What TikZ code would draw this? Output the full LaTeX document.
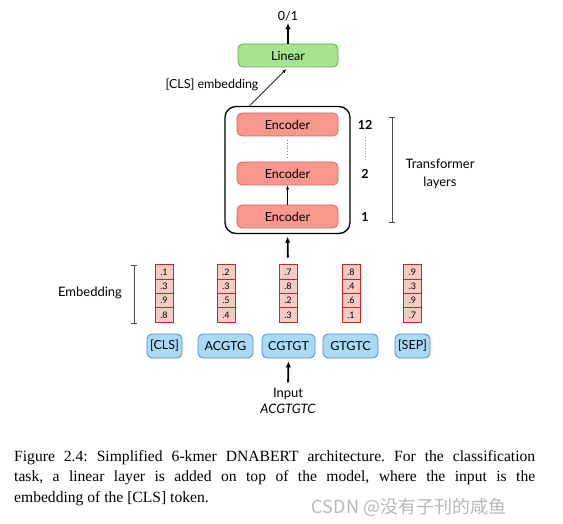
\documentclass[tikz,border=0pt]{standalone}
\usepackage{fontspec}
\setmainfont{Liberation Serif}
\newfontfamily\diag{Lato}
\newfontfamily\cjk{Noto Sans CJK SC}
\usetikzlibrary{arrows.meta}
\definecolor{lingreen}{HTML}{A6E58F}
\definecolor{lingreenb}{HTML}{5BB04A}
\definecolor{encfill}{HTML}{F8978B}
\definecolor{encdraw}{HTML}{D9675C}
\definecolor{cellfill}{HTML}{F6CBC6}
\definecolor{celldraw}{HTML}{C8281E}
\definecolor{tokfill}{HTML}{A9DAF9}
\definecolor{tokdraw}{HTML}{4B8FC4}
\begin{document}
\begin{tikzpicture}[x=1pt,y=-1pt,
  lbl/.style={font=\diag\fontsize{12.5}{14}\selectfont, inner sep=1},
  linbox/.style={lbl, draw=lingreenb, fill=lingreen, rounded corners=5, line width=0.8, minimum width=100, minimum height=23},
  encbox/.style={lbl, draw=encdraw, fill=encfill, rounded corners=5, line width=0.8, minimum width=101, minimum height=23},
  cellbox/.style={font=\diag\fontsize{9}{10}\selectfont, draw=celldraw, fill=cellfill, line width=0.9, minimum width=18, minimum height=14.3, inner sep=0},
  tokbox/.style={lbl, draw=tokdraw, fill=tokfill, rounded corners=5, line width=0.8, minimum height=24},
  bigarrow/.style={-{Latex[length=6,width=5.5]}, line width=1.8},
  thinarrow/.style={-{Latex[length=4,width=3.5]}, line width=0.7},
  brk/.style={line width=0.7, gray!60!black},
  num/.style={lbl, font=\diag\bfseries\fontsize{12.5}{14}\selectfont},
]
\useasboundingbox (0,0) rectangle (563,524);
\fill[white] (0,0) rectangle (563,524);

% top
\node[lbl] (out) at (288,16) {0/1};
\node[linbox] (lin) at (288,55.5) {Linear};
\draw[bigarrow, shorten >=1] (lin.north) -- (out.south);

% encoder stack
\node[draw, rounded corners=11, line width=1.3, minimum width=125, minimum height=127, inner sep=0] (stack) at (287.5,170) {};
\node[encbox] (enc12) at (287.5,124.5) {Encoder};
\node[encbox] (enc2) at (287.5,173.5) {Encoder};
\node[encbox] (enc1) at (287.5,216.5) {Encoder};
\draw[dotted, gray, line width=0.7, shorten <=4, shorten >=4] (enc12.south) -- (enc2.north);
\draw[thinarrow] (enc1.north) -- (enc2.south);

\coordinate (clsstart) at (249,106.5);
\node[lbl] (clslbl) at (212,85) {[CLS] embedding};
\draw[thinarrow, shorten >=2.5] (clsstart) -- (lin.south);

% layer numbers
\node[num] (n12) at (365,124.5) {12};
\node[num] (n2) at (365,173.5) {2};
\node[num] (n1) at (365,216.5) {1};
\draw[dotted, gray!70, line width=0.7, shorten <=7, shorten >=7] (n12.south) -- (n2.north);

\coordinate (tlt) at (392,117);
\coordinate (tlb) at (392,222);
\draw[brk] (tlt) -- (tlb);
\draw[brk] ([xshift=-3]tlt) -- ([xshift=3]tlt);
\draw[brk] ([xshift=-3]tlb) -- ([xshift=3]tlb);
\node[lbl, align=center, font=\diag\fontsize{13}{18}\selectfont] (tl) at (440,174) {Transformer\\layers};

% embeddings
\foreach \cx/\a/\b/\c/\d [count=\i] in {164/.1/.3/.9/.8, 226/.2/.3/.5/.4, 288/.7/.8/.2/.3, 351/.8/.4/.6/.1, 412.5/.9/.3/.9/.7}{
  \node[cellbox] (e\i-1) at (\cx,272.1) {\a};
  \node[cellbox] (e\i-2) at (\cx,286.4) {\b};
  \node[cellbox] (e\i-3) at (\cx,300.7) {\c};
  \node[cellbox] (e\i-4) at (\cx,315.0) {\d};
}
\draw[bigarrow, shorten <=7, shorten >=2.5] (e3-1.north) -- (stack.south);

\coordinate (ebt) at (134,265);
\coordinate (ebb) at (134,323);
\draw[brk] (ebt) -- (ebb);
\draw[brk] ([xshift=-3]ebt) -- ([xshift=3]ebt);
\draw[brk] ([xshift=-3]ebb) -- ([xshift=3]ebb);
\node[lbl, font=\diag\fontsize{13}{14}\selectfont] (emb) at (90,293) {Embedding};

% tokens
\node[tokbox, minimum width=35] (t1) at (164.5,346) {[CLS]};
\node[tokbox, minimum width=55] (t2) at (225.5,346) {ACGTG};
\node[tokbox, minimum width=53] (t3) at (288.5,346) {CGTGT};
\node[tokbox, minimum width=55] (t4) at (350.5,346) {GTGTC};
\node[tokbox, minimum width=35] (t5) at (412.5,346) {[SEP]};

% input
\node[lbl, align=center, font=\diag\fontsize{13}{15.5}\selectfont] (inp) at (288,401) {Input\\\itshape ACGTGTC};
\draw[bigarrow, shorten <=5, shorten >=3] (inp.north) -- (t3.south);

% caption
\node[anchor=north west, text width=521, align=justify, inner sep=0, font=\frenchspacing\fontsize{15.6}{20.5}\selectfont] (cap) at (14,450)
  {Figure 2.4: Simplified 6-kmer DNABERT architecture. For the classification\linebreak task, a linear layer is added on top of the model, where the input is the\linebreak embedding of the [CLS] token.};
\node[font=\cjk\fontsize{18}{20}\selectfont, text=gray!55, inner sep=0] (wm) at (409,507) {CSDN @没有子刊的咸鱼};
\end{tikzpicture}
\end{document}
